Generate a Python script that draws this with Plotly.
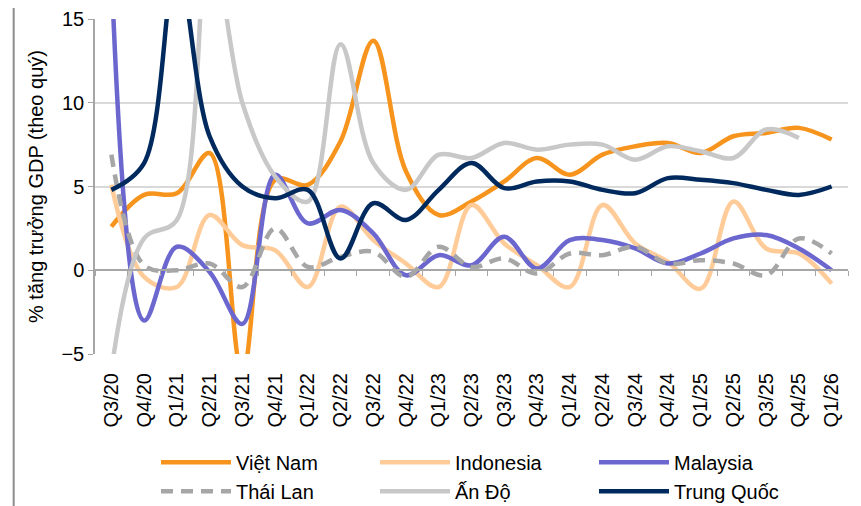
import plotly.graph_objects as go

# quarters on the x axis
quarters = ['Q3/20', 'Q4/20', 'Q1/21', 'Q2/21', 'Q3/21', 'Q4/21', 'Q1/22', 'Q2/22',
            'Q3/22', 'Q4/22', 'Q1/23', 'Q2/23', 'Q3/23', 'Q4/23', 'Q1/24', 'Q2/24',
            'Q3/24', 'Q4/24', 'Q1/25', 'Q2/25', 'Q3/25', 'Q4/25', 'Q1/26']

# GDP growth, %
viet_nam = [2.6, 4.5, 4.6, 7.0, -6.0, 5.4, 5.1, 7.7, 13.7, 5.9, 3.3, 4.1, 5.3,
            6.7, 5.7, 6.9, 7.4, 7.6, 7.0, 8.0, 8.2, 8.5, 7.8]
indonesia = [5.1, -0.4, -1.0, 3.3, 1.5, 1.2, -1.0, 3.8, 1.8, 0.4, -1.0, 3.9, 1.6,
             0.3, -1.0, 3.9, 1.6, 0.5, -1.1, 4.1, 1.3, 1.0, -0.8]
malaysia = [18.0, -3.0, 1.4, -0.1, -3.2, 5.7, 2.8, 3.6, 2.2, -0.3, 0.9, 0.3, 2.0,
            0.1, 1.8, 1.8, 1.3, 0.4, 1.0, 1.9, 2.1, 1.3, 0.0]
thai_lan = [6.9, 0.3, 0.0, 0.4, -1.0, 2.5, 0.2, 0.8, 1.1, -0.4, 1.4, 0.2, 0.7,
            -0.2, 1.0, 0.9, 1.4, 0.4, 0.6, 0.4, -0.3, 1.9, 1.0]
an_do = [-6.0, 1.9, 3.0, 20.0, 10.0, 5.6, 4.1, 13.5, 6.4, 4.8, 6.9, 6.7, 7.6,
         7.2, 7.5, 7.5, 6.6, 7.4, 7.1, 6.7, 8.4, 7.9, None]
trung_quoc = [4.8, 6.4, 18.3, 8.0, 5.0, 4.3, 4.8, 0.7, 4.0, 3.0, 4.8, 6.4, 4.9,
              5.3, 5.3, 4.8, 4.6, 5.5, 5.4, 5.2, 4.8, 4.5, 5.0]

series = [
    ('Việt Nam', viet_nam, '#F7941D', 'solid'),
    ('Indonesia', indonesia, '#FFCC99', 'solid'),
    ('Malaysia', malaysia, '#6B67CF', 'solid'),
    ('Thái Lan', thai_lan, '#A6A6A6', '12px,8px'),
    ('Ấn Độ', an_do, '#C8C8C8', 'solid'),
    ('Trung Quốc', trung_quoc, '#002A5E', 'solid'),
]

FONT = 'Liberation Sans, Arial, sans-serif'
xrange = [-0.5, len(quarters) - 0.5]

fig = go.Figure()
for name, vals, color, dash in series:
    fig.add_trace(go.Scatter(x=quarters, y=vals, name=name, mode='lines',
                             line=dict(color=color, width=4.5, dash=dash,
                                       shape='spline', smoothing=1)))

# empty trace so the zero-line axis with its tick marks is drawn
fig.add_trace(go.Scatter(x=quarters, y=[None] * len(quarters), xaxis='x2',
                         showlegend=False, hoverinfo='skip'))

# page body has an 8px margin, so the figure is 8px smaller than the window
fig.update_layout(
    width=853, height=498,
    margin=dict(l=87, r=13, t=11, b=152, autoexpand=False),
    plot_bgcolor='white', paper_bgcolor='white',
    font=dict(family=FONT, size=20, color='black'),
    showlegend=True,
    legend=dict(orientation='h', x=0.081, xanchor='left', y=0.127, yref='container',
                yanchor='top', entrywidth=134, entrywidthmode='pixels', itemwidth=70,
                font=dict(size=20), bgcolor='rgba(0,0,0,0)'),
    xaxis=dict(type='category', categoryorder='array', categoryarray=quarters,
               range=xrange, tickangle=-90, ticks='', showline=False, showgrid=False,
               ticklabelstandoff=14, tickfont=dict(size=20)),
    xaxis2=dict(type='category', categoryorder='array', categoryarray=quarters,
                range=xrange, overlaying='x', anchor='free', position=0.25, side='bottom',
                showline=True, linecolor='#A6A6A6', linewidth=1.5,
                ticks='outside', ticklen=5, tickcolor='#A6A6A6', tickson='boundaries',
                showticklabels=False, showgrid=False),
    yaxis=dict(range=[-5, 15], dtick=5, showgrid=True, gridcolor='#D9D9D9', gridwidth=1.5,
               zeroline=False, showline=True, linecolor='#A6A6A6', linewidth=1.5,
               ticks='outside', ticklen=5, tickcolor='#A6A6A6',
               tickfont=dict(size=20), ticklabeloverflow='allow',
               title=dict(text='% tăng trưởng GDP (theo quý)', standoff=12,
                          font=dict(size=20))),
    shapes=[dict(type='line', xref='paper', yref='paper', x0=-0.108, x1=-0.108,
                 y0=-0.46, y1=1.06, line=dict(color='#8C8C8C', width=2))],
)

fig.write_html("out.html")
